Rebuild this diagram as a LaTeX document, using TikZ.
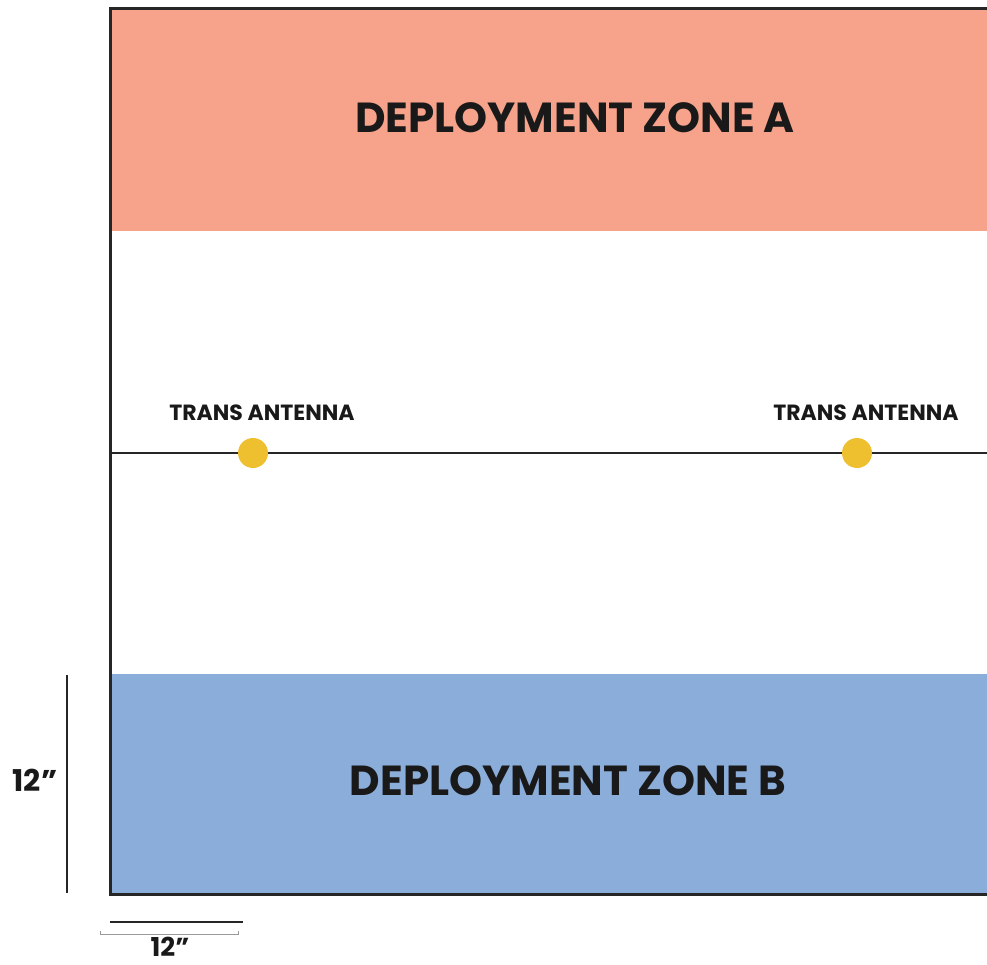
\documentclass[tikz,border=0pt]{standalone}
\usepackage{fontspec}
\setmainfont{Poppins}[BoldFont=* Bold]
\begin{document}
\begin{tikzpicture}[x=1pt,y=-1pt,
  frame/.style={line width=3pt,draw=black!85},
  zonelabel/.style={font=\fontsize{42}{46}\selectfont\bfseries,text=black!90,anchor=center},
  antlabel/.style={font=\fontsize{22}{25}\selectfont\bfseries,text=black!90,anchor=center},
  dimlabel/.style={font=\fontsize{30}{34}\selectfont\bfseries,text=black!90,anchor=center},
  antdot/.style={circle,fill=antyellow,minimum size=30pt,inner sep=0pt}]
\definecolor{zoneA}{HTML}{F7A28A}
\definecolor{zoneB}{HTML}{8BADD9}
\definecolor{antyellow}{HTML}{EEC030}
\useasboundingbox (0,0) rectangle (987,965);
\fill[zoneA] (110,9) rectangle (987,231);
\fill[zoneB] (110,674) rectangle (987,894);
\draw[frame] (987,9) -- (110,9) -- (110,894) -- (987,894);
\coordinate (ml) at (110,453);
\coordinate (mr) at (987,453);
\draw[line width=2.5pt,black!85] (ml) -- (mr);
\node[antdot] (d1) at (253,453) {};
\node[antdot] (d2) at (857,453) {};
\node[antlabel] (t1) at (262,413) {TRANS ANTENNA};
\node[antlabel] (t2) at (866,413) {TRANS ANTENNA};
\node[zonelabel] (za) at (575,118) {DEPLOYMENT ZONE A};
\node[zonelabel] (zb) at (568,781) {DEPLOYMENT ZONE B};
\coordinate (v1) at (67,675);
\coordinate (v2) at (67,893);
\draw[line width=2.5pt,black!85] (v1) -- (v2);
\node[dimlabel] (l1) at (35,780) {12\symbol{34}};
\coordinate (h1) at (110,922);
\coordinate (h2) at (243,922);
\draw[line width=2pt,black!85] (h1) -- (h2);
\coordinate (b1) at (100,934);
\coordinate (b2) at (238,934);
\draw[line width=0.6pt,black!40] ([yshift=3pt]b1) -- (b1) -- (b2) -- ([yshift=3pt]b2);
\node[dimlabel,font=\fontsize{26}{30}\selectfont\bfseries,inner sep=0pt,anchor=base] (l2) at (170,956) {12\symbol{34}};
\end{tikzpicture}
\end{document}
